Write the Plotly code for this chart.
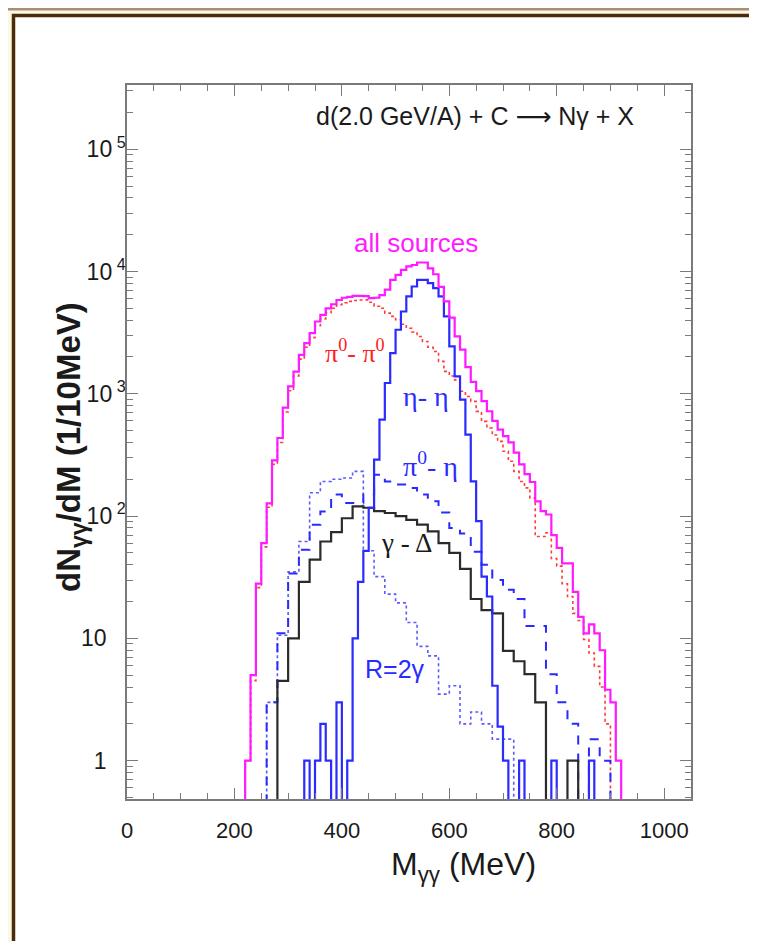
import numpy as np
import plotly.graph_objects as go

# ---------------- data ----------------
# all sources, 10 MeV bins starting at 220 MeV
all_start, all_w = 220, 10
all_vals = [1, 5, 28, 60, 127, 285, 435, 770, 1150, 1520,
            2080, 2600, 3130, 3900, 4420, 5000, 5400, 5850, 6100, 6200,
            6330, 6330, 6300, 6050, 6100, 6400, 7100, 8550, 9400, 10300,
            11000, 11300, 11850, 11850, 10600, 9500, 7500, 5700, 4200, 2950,
            2300, 1650, 1250, 1050, 870, 720, 600, 510, 450, 400,
            330, 265, 220, 190, 132, 110, 103, 70, 55, 41,
            41, 24, 15, 11, 13, 11, 8, 3.8, 3, 1]

# pi0 - pi0, 10 MeV bins starting at 220 MeV
pp_start, pp_w = 220, 10
pp_vals = [1, 4.5, 26, 56, 118, 265, 400, 710, 1060, 1400,
           1920, 2400, 2880, 3600, 4100, 4600, 5000, 5350, 5550, 5700,
           5800, 5850, 5860, 5600, 5200, 5000, 4570, 4300, 4030, 3700,
           3440, 3200, 2940, 2680, 2400, 2220, 1840, 1524, 1400, 1300,
           1050, 950, 867, 718, 595, 525, 460, 408, 339, 281,
           232, 192, 170, 141, 68, 68, 73, 45, 39, 28,
           22, 16, 14, 9.8, 7.6, 5.9, 4, 2]

# eta - eta, 10 MeV bins starting at 330 MeV
ee_start, ee_w = 330, 10
ee_vals = [1, 0, 1, 2, 1, 0, 3, 0, 1, 10,
           29, 52, 117, 290, 614, 1225, 2150, 3340, 4710, 6250,
           7540, 8550, 8550, 8030, 7310, 6250, 4300, 2440, 1390, 895,
           463, 192, 91, 32, 22, 4.1, 1.9, 1, 0, 0,
           1, 0, 0, 0, 0, 0, 1, 0, 0, 0,
           0, 0, 0, 1]

# gamma - Delta, 20 MeV bins starting at 280 MeV
gd_start, gd_w = 280, 20
gd_vals = [4.5, 10, 29, 44, 62, 74, 96, 120, 117, 110,
           106, 100, 93, 85, 75, 60, 50, 37, 21, 17,
           16, 7.9, 6.5, 5.1, 3, 0, 0, 1]

# pi0 - eta, 20 MeV bins starting at 260 MeV
pe_start, pe_w = 260, 20
pe_vals = [3, 11, 34, 53, 85, 109, 150, 128, 128, 150,
           218, 192, 181, 170, 150, 132, 107, 80, 72, 51,
           40, 30, 25, 21, 12.6, 12.6, 5.1, 3, 2, 0,
           1.5, 1]

# R = 2 gamma, 20 MeV bins starting at 260 MeV
r2_start, r2_w = 260, 20
r2_vals = [3, 10.6, 35, 62, 155, 192, 200, 205, 232, 52,
           32, 23, 19.5, 13.5, 8.6, 7.2, 3.5, 4.1, 2, 2.5,
           2, 1.5, 1.5]

x_ticks = [0, 200, 400, 600, 800, 1000]
y_ticks = [1, 10, 100, 1000, 10000, 100000]
NB = "\u00a0"
y_ticktext = ["1" + NB * 3, "10" + NB * 3,
              "10<sup>" + NB + "2</sup>", "10<sup>" + NB + "3</sup>",
              "10<sup>" + NB + "4</sup>", "10<sup>" + NB + "5</sup>"]

# ---------------- helpers ----------------
FLOOR = 1e-3


def step_xy(start, width, vals):
    edges = start + width * np.arange(len(vals) + 1)
    v = np.asarray(vals, float)
    v = np.where(v > 0, v, FLOOR)
    xs = np.concatenate([[edges[0]], edges[:-1], [edges[-1], edges[-1]]])
    ys = np.concatenate([[FLOOR], v, [v[-1], FLOOR]])
    return xs, ys


# screen geometry (page body has an 8 px margin)
OFF = 8
SCR_W, SCR_H = 757, 949
FIG_W, FIG_H = SCR_W - 2 * OFF, SCR_H - 2 * OFF
L, R, T, B = 127, 691, 85, 799          # plot area in screen pixels
W, H = R - L, B - T


def xp(px):
    return (px - L) / W


def yp(py):
    return (B - py) / H


fig = go.Figure()

series = [
    (pp_start, pp_w, pp_vals, "#ff3b3b", "dot", 1.6),
    (r2_start, r2_w, r2_vals, "#5a5aff", "dot", 1.6),
    (pe_start, pe_w, pe_vals, "#2a2aff", "dash", 2.0),
    (gd_start, gd_w, gd_vals, "#2b2b2b", "solid", 2.2),
    (ee_start, ee_w, ee_vals, "#2b2bff", "solid", 2.2),
    (all_start, all_w, all_vals, "#ff1aff", "solid", 2.2),
]
for s, w, v, col, dash, lw in series:
    xs, ys = step_xy(s, w, v)
    fig.add_trace(go.Scatter(x=xs, y=ys, mode="lines",
                             line=dict(color=col, width=lw, dash=dash, shape="hv"),
                             hoverinfo="skip", showlegend=False))

# dummy trace for the mirrored axes
fig.add_trace(go.Scatter(x=[None], y=[None], xaxis="x2", yaxis="y2", showlegend=False))

y_lo, y_hi = np.log10(0.486), np.log10(3.35e5)
minor_y = [m * 10.0 ** d for d in range(-1, 6) for m in range(2, 10)]

axcol = "#7a7a7a"
sans = "Liberation Sans, Arial, sans-serif"
serif = "Liberation Serif, Times New Roman, serif"
xtickfont = dict(family=sans, size=22, color="#1a1a1a")
ytickfont = dict(family=sans, size=23, color="#1a1a1a")

fig.update_layout(
    width=FIG_W, height=FIG_H,
    margin=dict(l=L - OFF, r=OFF + FIG_W - R, t=T - OFF, b=OFF + FIG_H - B),
    paper_bgcolor="#fbf9e3",
    plot_bgcolor="white",
    showlegend=False,
    xaxis=dict(range=[0, 1050], tickvals=x_ticks, ticks="inside", ticklen=11,
               tickwidth=1, tickcolor=axcol, showline=True, linecolor=axcol,
               linewidth=1.5, showgrid=False, zeroline=False, tickfont=xtickfont,
               ticklabelstandoff=11,
               minor=dict(dtick=50, ticks="inside", ticklen=6, tickcolor=axcol, showgrid=False)),
    yaxis=dict(type="log", range=[y_lo, y_hi], tickvals=y_ticks, ticktext=y_ticktext,
               ticks="inside", ticklen=11, tickwidth=1, tickcolor=axcol, showline=True,
               linecolor=axcol, linewidth=1.5, showgrid=False, zeroline=False,
               tickfont=ytickfont, ticklabelstandoff=-5,
               minor=dict(tickvals=minor_y, ticks="inside", ticklen=6, tickcolor=axcol, showgrid=False)),
    xaxis2=dict(range=[0, 1050], overlaying="x", side="top", tickvals=x_ticks, ticks="inside",
                ticklen=11, tickcolor=axcol, showticklabels=False, showline=True,
                linecolor=axcol, linewidth=1.5, showgrid=False, zeroline=False,
                minor=dict(dtick=50, ticks="inside", ticklen=6, tickcolor=axcol, showgrid=False)),
    yaxis2=dict(type="log", range=[y_lo, y_hi], overlaying="y", side="right", tickvals=y_ticks,
                ticks="inside", ticklen=11, tickcolor=axcol, showticklabels=False, showline=True,
                linecolor=axcol, linewidth=1.5, showgrid=False, zeroline=False,
                minor=dict(tickvals=minor_y, ticks="inside", ticklen=6, tickcolor=axcol, showgrid=False)),
)

# page frame
fig.add_shape(type="rect", xref="paper", yref="paper", layer="below",
              x0=xp(-10), x1=xp(SCR_W + 10), y0=yp(10.5), y1=yp(5.5),
              fillcolor="#a88f73", line=dict(width=0))
fig.add_shape(type="rect", xref="paper", yref="paper", layer="below",
              x0=xp(13.5), x1=xp(SCR_W + 20), y0=yp(SCR_H + 20), y1=yp(15.5),
              fillcolor="white", line=dict(color="#4b2c0a", width=3.5))


def label(px, py, text, color, size, family=sans):
    fig.add_annotation(xref="paper", yref="paper", x=xp(px), y=yp(py), text=text,
                       showarrow=False, xanchor="center", yanchor="middle",
                       font=dict(family=family, size=size, color=color))


label(475, 117, "d(2.0 GeV/A) + C <span style='font-family:DejaVu Sans'>\u27f6</span> N\u03b3 + X",
      "#1a1a1a", 25)
label(416, 243, "all sources", "#ff1aff", 26)
label(355, 351, "\u03c0<sup>0</sup>- \u03c0<sup>0</sup>", "#ff2020", 26, serif)
label(426, 396, "\u03b7- \u03b7", "#2b2bff", 28, serif)
label(430, 464, "\u03c0<sup>0</sup>- \u03b7", "#2b2bff", 28, serif)
label(406, 543, "\u03b3 - \u0394", "#1a1a1a", 27, serif)
label(395, 669, "R=2\u03b3", "#2b2bff", 25)

# axis titles
fig.add_annotation(xref="paper", yref="paper", x=xp(464), y=yp(866),
                   text="M<sub>\u03b3\u03b3</sub> (MeV)", showarrow=False,
                   xanchor="center", yanchor="middle",
                   font=dict(family=sans, size=32, color="#1a1a1a"))
fig.add_annotation(xref="paper", yref="paper", x=xp(71), y=yp(447),
                   text="<b>dN<sub>\u03b3\u03b3</sub>/dM (1/10MeV)</b>", showarrow=False,
                   textangle=-90, xanchor="center", yanchor="middle",
                   font=dict(family=sans, size=33, color="#1a1a1a"))

fig.write_html("out.html")
